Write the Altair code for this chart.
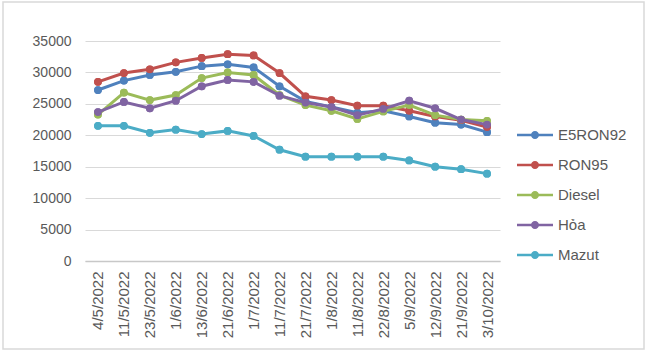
import altair as alt
import pandas as pd

dates = ["4/5/2022", "11/5/2022", "23/5/2022", "1/6/2022", "13/6/2022", "21/6/2022",
         "1/7/2022", "11/7/2022", "21/7/2022", "1/8/2022", "11/8/2022", "22/8/2022",
         "5/9/2022", "12/9/2022", "21/9/2022", "3/10/2022"]

e5ron92 = [27200, 28700, 29600, 30100, 31000, 31300, 30800, 27800, 25400, 24500,
           23600, 23900, 23000, 22000, 21700, 20500]
ron95 = [28500, 29900, 30500, 31600, 32300, 32900, 32700, 29900, 26200, 25600,
         24700, 24700, 23900, 23000, 22400, 21300]
diesel = [23300, 26800, 25600, 26400, 29100, 30000, 29600, 26400, 24800, 23900,
          22600, 23800, 24800, 23200, 22500, 22300]
hoa = [23700, 25300, 24300, 25500, 27800, 28800, 28500, 26300, 25200, 24500,
       23200, 24200, 25500, 24300, 22500, 21700]
mazut = [21500, 21500, 20400, 20900, 20200, 20700, 19900, 17700, 16600, 16600,
         16600, 16600, 16000, 15000, 14600, 13900]

series_names = ["E5RON92", "RON95", "Diesel", "Hỏa", "Mazut"]
series_values = [e5ron92, ron95, diesel, hoa, mazut]
series_colors = ["#4F81BD", "#C0504D", "#9BBB59", "#8064A2", "#4BACC6"]

rows = []
for name, vals in zip(series_names, series_values):
    for d, v in zip(dates, vals):
        rows.append({"date": d, "series": name, "value": v})
df = pd.DataFrame(rows)

font = "Liberation Sans"
legend_path = ("M-1.2,-0.09H1.2V0.09H-1.2Z "
               "M0.27,0A0.27,0.27 0 1,1 -0.27,0A0.27,0.27 0 1,1 0.27,0Z")

x_enc = alt.X("date:N", sort=dates,
              scale=alt.Scale(type="point", padding=0.5),
              axis=alt.Axis(title=None, labelAngle=270, labelAlign="right",
                            labelBaseline="middle", labelPadding=10, ticks=False,
                            domainColor="#c8c8c8", domainWidth=1.5,
                            labelFont=font, labelFontSize=15,
                            labelColor="#595959", grid=False))
y_enc = alt.Y("value:Q",
              scale=alt.Scale(domain=[0, 35000], nice=False),
              axis=alt.Axis(title=None, values=list(range(0, 35001, 5000)), format="d",
                            ticks=False, domain=False, labelPadding=14,
                            labelFont=font, labelFontSize=14, labelColor="#595959",
                            gridColor="#d9d9d9", gridWidth=1))
color_scale = alt.Scale(domain=series_names, range=series_colors)
legend = alt.Legend(title=None, orient="none", legendX=435, legendY=79,
                    symbolType=legend_path, symbolSize=900,
                    symbolStrokeWidth=0, rowPadding=7, symbolOpacity=1,
                    labelOffset=8, labelFont=font, labelFontSize=15,
                    labelColor="#595959")
color_enc = alt.Color("series:N", scale=color_scale, legend=legend)

# points layer first so the shared legend takes filled symbols
legend_points = alt.Chart(df).mark_point(size=60, filled=True, opacity=1).encode(
    x=x_enc, y=y_enc, color=color_enc)

layers = [legend_points]
for name in series_names:
    base = alt.Chart(df).transform_filter(alt.datum.series == name)
    layers.append(base.mark_line(strokeWidth=3).encode(x=x_enc, y=y_enc, color=color_enc))
    layers.append(base.mark_point(size=60, filled=True, opacity=1).encode(
        x=x_enc, y=y_enc, color=color_enc))

frame = alt.Chart(pd.DataFrame({"a": [0]})).mark_rect(
    fill=None, stroke="#d9d9d9", strokeWidth=1.5
).encode(x=alt.value(-82), x2=alt.value(559), y=alt.value(-39), y2=alt.value(308))

chart = alt.layer(frame, *layers).properties(
    width=415, height=220,
    autosize=alt.AutoSizeParams(type="none"),
    padding={"left": 85, "top": 41, "right": 150, "bottom": 92},
    background="white",
).configure_view(stroke=None)

chart.save("out.html", embed_options={"renderer": "svg", "actions": False})
